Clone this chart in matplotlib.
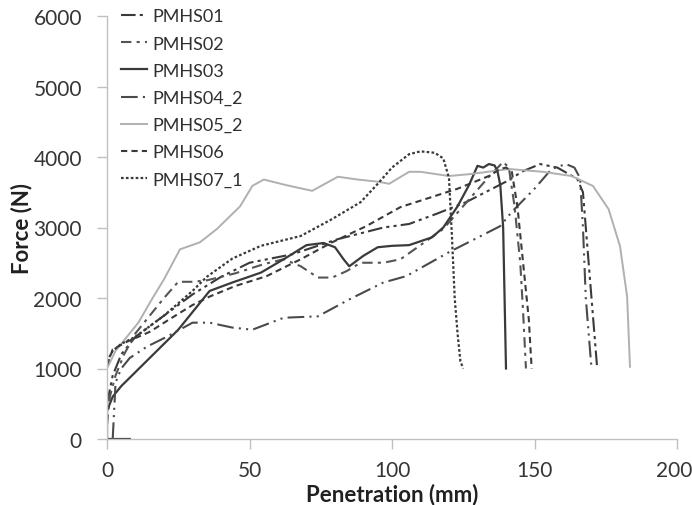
import matplotlib
matplotlib.use("Agg")
import matplotlib.pyplot as plt
from matplotlib.transforms import ScaledTranslation

plt.rcParams['font.family'] = ['Lato', 'DejaVu Sans']

labels = ["PMHS01", "PMHS02", "PMHS03", "PMHS04_2", "PMHS05_2", "PMHS06", "PMHS07_1"]

# PMHS01
x01 = [0, 2, 5, 10, 15, 20, 30, 40, 50, 65, 81, 97, 106, 116, 126, 140, 146, 152, 158, 165, 167, 168, 170, 172]
y01 = [500, 900, 1200, 1450, 1600, 1750, 2050, 2300, 2500, 2620, 2835, 3000, 3050, 3200, 3360, 3650, 3800, 3900, 3850, 3690, 3500, 3000, 2000, 1000]
# PMHS02
x02 = [0, 1, 3, 6, 10, 15, 20, 25, 30, 35, 45, 55, 62, 68, 74, 79, 84, 89, 97, 103, 110, 118, 126, 134, 139, 141, 143, 145, 146, 147]
y02 = [200, 600, 900, 1200, 1500, 1750, 2000, 2230, 2230, 2250, 2350, 2480, 2550, 2450, 2290, 2290, 2380, 2500, 2500, 2550, 2750, 2980, 3350, 3720, 3930, 3850, 3300, 2500, 1800, 1000]
# PMHS03
x03 = [8, 0, 0, 2, 5, 10, 15, 20, 25, 30, 36, 44, 54, 62, 70, 76, 80, 83, 85, 90, 95, 100, 106, 114, 118, 123, 127, 130, 132, 134, 136, 137, 138, 139, 139.5, 140]
y03 = [0, 0, 400, 600, 750, 950, 1150, 1350, 1550, 1800, 2100, 2220, 2360, 2550, 2750, 2780, 2720, 2550, 2450, 2600, 2720, 2740, 2750, 2860, 3000, 3300, 3600, 3875, 3850, 3900, 3880, 3800, 3600, 3000, 2000, 1000]
# PMHS04_2
x04 = [2, 2.5, 3, 5, 8, 14, 21, 30, 36, 44, 51, 62, 74, 85, 97, 105, 120, 138, 142, 150, 156, 161, 164, 166, 167, 168, 170]
y04 = [0, 400, 800, 1000, 1150, 1310, 1450, 1650, 1650, 1580, 1550, 1720, 1740, 1980, 2220, 2310, 2650, 3020, 3220, 3550, 3830, 3900, 3850, 3700, 3000, 2000, 1000]
# PMHS05_2
x05 = [0, 3, 7, 11, 16, 20, 25.6, 32.6, 38.6, 46.7, 51, 55, 63, 72, 81, 88, 95, 99, 106, 110, 120, 128, 141, 153, 163, 170.5, 176, 180, 182.5, 183.5]
y05 = [1000, 1250, 1450, 1650, 2000, 2265, 2690, 2790, 2980, 3300, 3590, 3680, 3600, 3520, 3720, 3680, 3650, 3620, 3790, 3790, 3730, 3760, 3830, 3790, 3730, 3590, 3260, 2735, 2020, 1025]
# PMHS06
x06 = [0, 2, 7, 15, 22, 30, 36, 45, 56, 68, 79, 91, 103, 113, 123, 134, 138, 140, 142, 144, 146, 148, 149]
y06 = [1050, 1270, 1380, 1520, 1700, 1900, 2020, 2170, 2310, 2550, 2790, 3020, 3290, 3420, 3550, 3730, 3830, 3850, 3800, 3300, 2500, 1700, 1000]
# PMHS07_1
x07 = [0, 2, 5, 10, 20, 30, 35, 44, 54, 68, 79, 89, 95, 100, 106, 110, 115, 118, 120, 121, 122, 123, 124, 125]
y07 = [1100, 1250, 1350, 1450, 1750, 2100, 2300, 2560, 2740, 2880, 3120, 3360, 3620, 3850, 4040, 4080, 4060, 3980, 3700, 2900, 2000, 1500, 1100, 1000]

xticks = [0, 50, 100, 150, 200]
yticks = [0, 1000, 2000, 3000, 4000, 5000, 6000]

xs = [x01, x02, x03, x04, x05, x06, x07]
ys = [y01, y02, y03, y04, y05, y06, y07]

dark = '#3a3a3a'
styles = [
    dict(color=dark, ls=(0, (7, 2, 1.5, 2, 1.5, 2)), lw=1.5),
    dict(color='#555555', ls=(0, (5, 2.5, 1.5, 2.5)), lw=1.5),
    dict(color=dark, ls='-', lw=1.6),
    dict(color='#4a4a4a', ls=(0, (8, 2.5, 1, 2.5, 1, 2.5)), lw=1.5),
    dict(color='#b0b0b0', ls='-', lw=1.4),
    dict(color=dark, ls=(0, (3, 2)), lw=1.5),
    dict(color=dark, ls=(0, (1.2, 1)), lw=1.6),
]

fig = plt.figure(figsize=(6.92, 5.06), dpi=100)
ax = fig.add_axes([107/692, (506-440)/506, 570/692, 423/506])

for x, y, lab, st in zip(xs, ys, labels, styles):
    ax.plot(x, y, label=lab, **st)

ax.set_xlim(0, 200)
ax.set_ylim(0, 6000)
ax.set_xticks(xticks)
ax.set_yticks(yticks)
for s in ['top', 'right']:
    ax.spines[s].set_visible(False)
for s in ['left', 'bottom']:
    ax.spines[s].set_color('#c0c0c0')
    ax.spines[s].set_linewidth(1.0)
ax.tick_params(axis='both', direction='out', length=7, width=1.0, color='#c0c0c0',
               labelsize=15, labelcolor='#353535')
ax.tick_params(axis='x', pad=8)
ax.tick_params(axis='y', pad=11)
ax.set_xlabel('Penetration (mm)', fontsize=16, fontweight='bold', color='#202020', labelpad=2)
ax.set_ylabel('Force (N)', fontsize=16, fontweight='bold', color='#202020', labelpad=1)

# nudge the last x tick label so it stays inside the figure
lbl = ax.get_xticklabels()[-1]
lbl.set_transform(lbl.get_transform() + ScaledTranslation(-3/100, 0, fig.dpi_scale_trans))

leg = ax.legend(loc='upper left', bbox_to_anchor=(0.012, 1.035), frameon=False, fontsize=13,
                handlelength=1.45, handletextpad=0.3, labelspacing=0.62, borderaxespad=0)
for t in leg.get_texts():
    t.set_color('#303030')

fig.savefig('out.png', dpi=100)
